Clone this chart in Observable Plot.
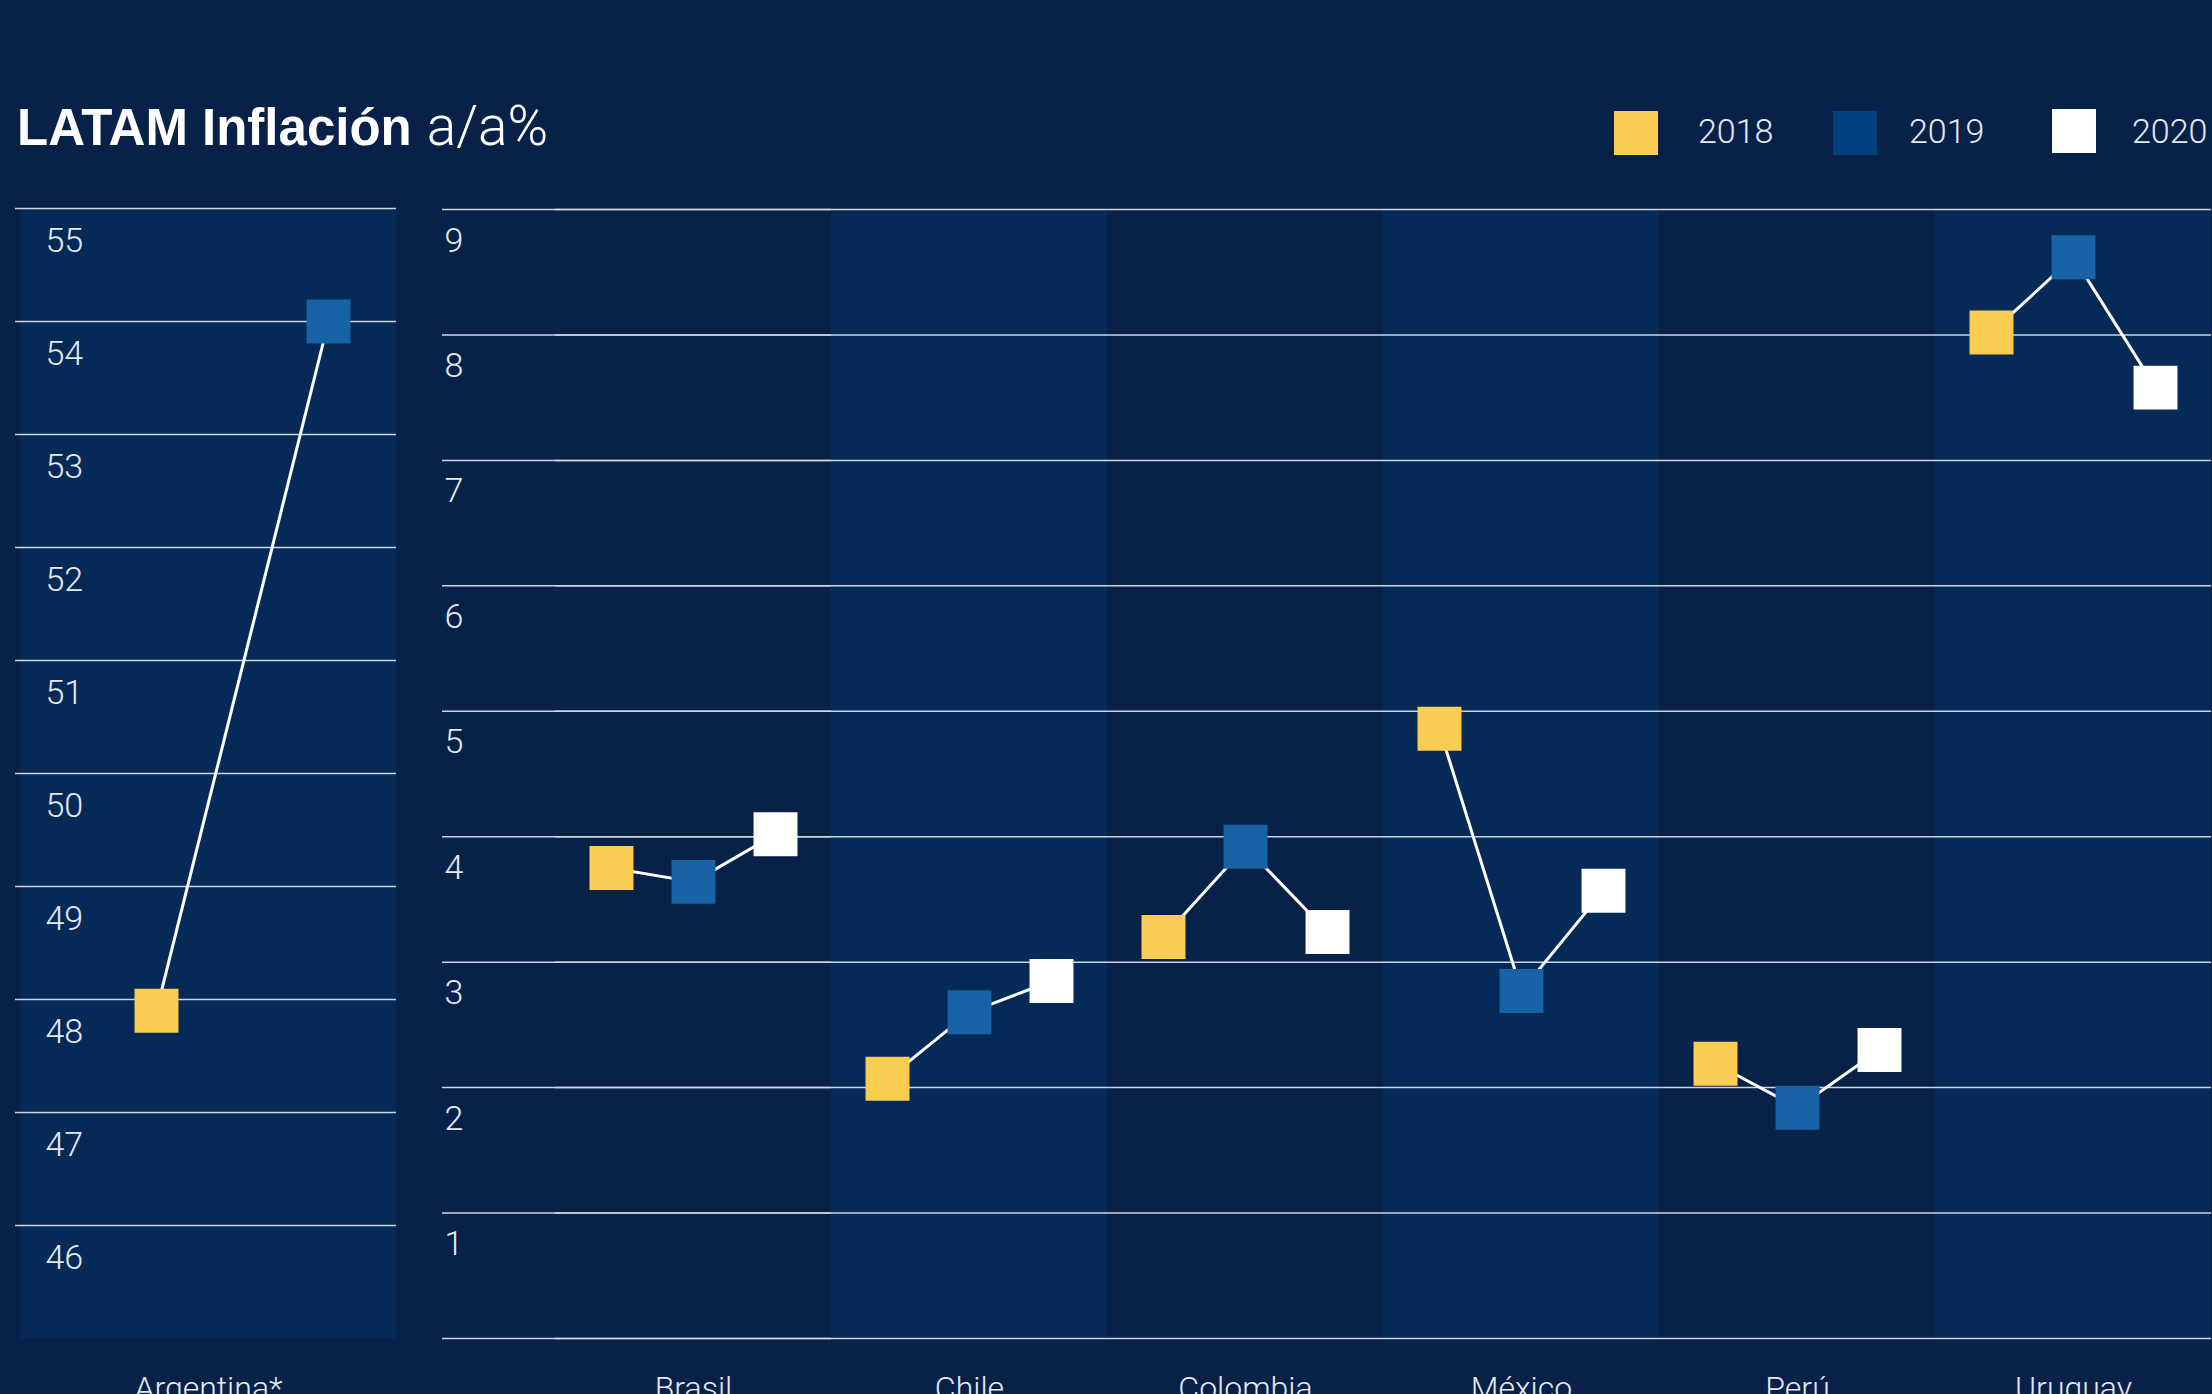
<!DOCTYPE html>
<html>
<head>
<meta charset="utf-8">
<script src="https://cdn.jsdelivr.net/npm/d3@7"></script>
<script src="https://cdn.jsdelivr.net/npm/@observablehq/plot@0.6"></script>
<style>
  html, body { margin: 0; padding: 0; width: 2212px; height: 1394px; overflow: hidden; background: #082148; }
  #wrap { position: relative; width: 2212px; height: 1394px; overflow: hidden; }
  .abs { position: absolute; left: 0; top: 0; }
  #right { left: 441px; }
</style>
</head>
<body>
<div id="wrap">
  <svg id="head" class="abs" width="2212" height="200"></svg>
  <div id="arg" class="abs"></div>
  <div id="right" class="abs"></div>
</div>
<script>
// ---------- data ----------
const years = [2018, 2019, 2020];
const countries = ["Brasil", "Chile", "Colombia", "México", "Perú", "Uruguay"];
const values2018 = [3.75, 2.07, 3.2, 4.86, 2.19, 8.02];
const values2019 = [3.64, 2.60, 3.92, 2.77, 1.84, 8.62];
const values2020 = [4.02, 2.85, 3.24, 3.57, 2.30, 7.58];
const argLabel = "Argentina*";
const argYears = [2018, 2019];
const argValues = [47.9, 54.0];
const gridRight = [0, 1, 2, 3, 4, 5, 6, 7, 8, 9];
const tickLabelsRight = [1, 2, 3, 4, 5, 6, 7, 8, 9];
const gridArg = [46, 47, 48, 49, 50, 51, 52, 53, 54, 55];
const titleBold = "LATAM Inflación";
const titleLight = "a/a%";

// ---------- styles ----------
const markerColors = ["#f8cd52", "#1763a6", "#ffffff"];
const legendColors = ["#f8cd52", "#00427f", "#ffffff"];
const lightBand = "#052a58";
const gridColor = "#cdd4de";
const textColor = "#e6eaf0";
const lightFont = "Roboto, 'Open Sans', sans-serif";

const series = [values2018, values2019, values2020];
const rows = countries.flatMap((c, i) => years.map((y, j) => ({country: c, year: y, value: series[j][i]})));
const argRows = argYears.map((y, j) => ({year: y, value: argValues[j]}));
const firstCountry = countries[0];

// ---------- title + legend ----------
const head = d3.select("#head");
const t = head.append("text").attr("x", 17).attr("y", 145).attr("fill", "#ffffff");
t.append("tspan").attr("font-family", "'Liberation Sans', Arial, sans-serif").attr("font-weight", 700)
  .attr("font-size", 51).text(titleBold);
t.append("tspan").attr("font-family", lightFont).attr("font-weight", 300)
  .attr("font-size", 55).attr("dx", 15).text(titleLight);

const leg = head.selectAll("g.item").data(years).join("g")
  .attr("transform", (d, i) => `translate(${1614 + i * 219},0)`);
leg.append("rect").attr("x", 0).attr("y", (d, i) => i === 2 ? 109 : 111)
  .attr("width", 44).attr("height", 44).attr("fill", (d, i) => legendColors[i]);
leg.append("text").attr("x", (d, i) => i === 0 ? 84 : i === 1 ? 76 : 80).attr("y", 143)
  .attr("font-family", lightFont).attr("font-weight", 300).attr("font-size", 34)
  .attr("fill", textColor).text(d => d);

// ---------- Argentina panel ----------
const argPlot = Plot.plot({
  width: 396, height: 1394,
  marginLeft: 20, marginRight: 0, marginTop: 208, marginBottom: 56,
  style: {background: "transparent", overflow: "visible"},
  x: {type: "point", domain: argYears, range: [156, 328], padding: 0, axis: null},
  y: {domain: [45, 55], axis: null},
  color: {type: "ordinal", domain: years, range: markerColors},
  marks: [
    Plot.frame({fill: lightBand, stroke: "none"}),
    Plot.ruleY(gridArg, {y: d => d, stroke: gridColor, strokeWidth: 1.5, insetLeft: -5}),
    Plot.text(gridArg, {y: d => d, text: d => String(d), frameAnchor: "left", textAnchor: "start",
      lineAnchor: "bottom", dx: 25, dy: 43, fill: textColor, fontSize: 34, fontFamily: lightFont, fontWeight: 300}),
    Plot.line(argRows, {x: "year", y: "value", stroke: "#ffffff", strokeWidth: 3}),
    Plot.dot(argRows, {x: "year", y: "value", symbol: "square", r: 24.8, fill: "year", stroke: "none"}),
    Plot.text([argLabel], {text: d => d, frameAnchor: "bottom", lineAnchor: "bottom", dy: 60,
      fill: textColor, fontSize: 32, fontFamily: lightFont, fontWeight: 300})
  ]
});
document.getElementById("arg").appendChild(argPlot);

// ---------- other countries ----------
const rightPlot = Plot.plot({
  width: 1771, height: 1394,
  marginLeft: 113, marginRight: 0, marginTop: 209, marginBottom: 56,
  style: {background: "transparent", overflow: "visible"},
  fx: {domain: countries, padding: 0, axis: null, label: null},
  x: {type: "point", domain: years, padding: 0.664, axis: null},
  y: {domain: [0, 9], axis: null},
  color: {type: "ordinal", domain: years, range: markerColors},
  marks: [
    Plot.barY(countries.filter((d, i) => i % 2 === 1), {fx: d => d, y1: 0, y2: 9, fill: lightBand}),
    // gridlines across every facet
    Plot.ruleY(gridRight, {y: d => d, stroke: gridColor, strokeWidth: 1.5}),
    // extension of gridlines into the left label area (first facet only)
    Plot.ruleY(gridRight, {fx: () => firstCountry, y: d => d, stroke: gridColor, strokeWidth: 1.5, insetLeft: -113}),
    Plot.text(tickLabelsRight, {fx: () => firstCountry, y: d => d, text: d => String(d), frameAnchor: "left",
      textAnchor: "start", lineAnchor: "bottom", dx: -111, dy: 42, fill: textColor, fontSize: 34,
      fontFamily: lightFont, fontWeight: 300}),
    Plot.line(rows, {fx: "country", x: "year", y: "value", stroke: "#ffffff", strokeWidth: 3}),
    Plot.dot(rows, {fx: "country", x: "year", y: "value", symbol: "square", r: 24.8, fill: "year", stroke: "none"}),
    Plot.text(countries, {fx: d => d, text: d => d, frameAnchor: "bottom", lineAnchor: "bottom", dy: 60,
      fill: textColor, fontSize: 32, fontFamily: lightFont, fontWeight: 300})
  ]
});
document.getElementById("right").appendChild(rightPlot);
</script>
</body>
</html>
